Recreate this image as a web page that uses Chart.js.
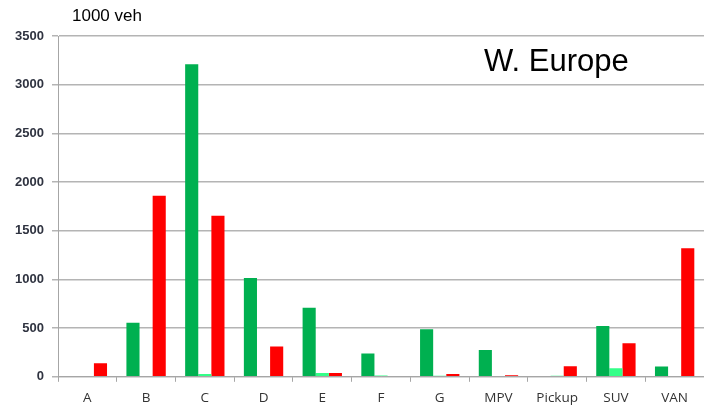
<!DOCTYPE html>
<html>
<head>
<meta charset="utf-8">
<script src="https://cdn.jsdelivr.net/npm/chart.js@4"></script>
<style>
  html, body { margin: 0; padding: 0; background: #fff; }
  #wrap { width: 704px; height: 409px; }
</style>
</head>
<body>
<div id="wrap"><canvas id="segChart" width="704" height="409"></canvas></div>
<script>
// segments and values (1000 vehicles)
let segments = ['A', 'B', 'C', 'D', 'E', 'F', 'G', 'MPV', 'Pickup', 'SUV', 'VAN'];
let darkGreen = [0, 555, 3210, 1015, 710, 240, 488, 275, 0, 522, 106];
let lightGreen = [0, 0, 28, 0, 38, 14, 10, 0, 12, 87, 0];
let redSeries = [140, 1860, 1655, 310, 38, 0, 28, 15, 108, 344, 1320];
let yTicks = [0, 500, 1000, 1500, 2000, 2500, 3000, 3500];

let textPlugin = {
    id: 'extraText',
    afterDraw: function (chart) {
        let c = chart.ctx;
        let area = chart.chartArea;
        c.save();
        c.fillStyle = '#000';
        c.textBaseline = 'middle';
        c.textAlign = 'left';
        c.font = '17px "Liberation Sans", Arial, sans-serif';
        c.fillText('1000 veh', area.left + 14, 16);
        c.font = '31px "Liberation Sans", Arial, sans-serif';
        c.fillText('W. Europe', area.left + 426, 62);
        c.restore();
    }
};

let ctx = document.getElementById('segChart').getContext('2d');
let segChart = new Chart(ctx, {
    type: 'bar',
    data: {
        labels: segments,
        datasets: [{
            label: 'dark',
            data: darkGreen,
            backgroundColor: '#00b050'
        }, {
            label: 'light',
            data: lightGreen,
            backgroundColor: '#33ff88'
        }, {
            label: 'red',
            data: redSeries,
            backgroundColor: '#ff0000'
        }]
    },
    options: {
        responsive: false,
        animation: false,
        categoryPercentage: 0.67,
        barPercentage: 1.0,
        layout: {
            padding: { top: 36, right: 0, left: 0, bottom: -5 }
        },
        plugins: {
            legend: { display: false },
            tooltip: { enabled: false }
        },
        scales: {
            x: {
                offset: true,
                grid: {
                    offset: true,
                    drawOnChartArea: false,
                    color: '#a6a6a6',
                    tickLength: 5
                },
                border: { color: '#a6a6a6', width: 1 },
                ticks: {
                    color: '#333',
                    font: { family: '"Open Sans", sans-serif', size: 13.5 },
                    padding: 8
                }
            },
            y: {
                min: 0,
                max: 3500,
                afterFit: function (scale) { scale.width = 58; },
                afterBuildTicks: function (scale) {
                    scale.ticks = yTicks.map(function (v) { return { value: v }; });
                },
                grid: {
                    color: '#b4b4b4',
                    lineWidth: 1.5,
                    tickLength: 6
                },
                border: { color: '#a6a6a6', width: 1 },
                ticks: {
                    color: '#2f3340',
                    font: { family: '"Liberation Sans", Arial, sans-serif', size: 13, weight: 'bold' },
                    padding: 8,
                    callback: function (v) { return String(v); }
                }
            }
        }
    },
    plugins: [textPlugin]
});
</script>
</body>
</html>
